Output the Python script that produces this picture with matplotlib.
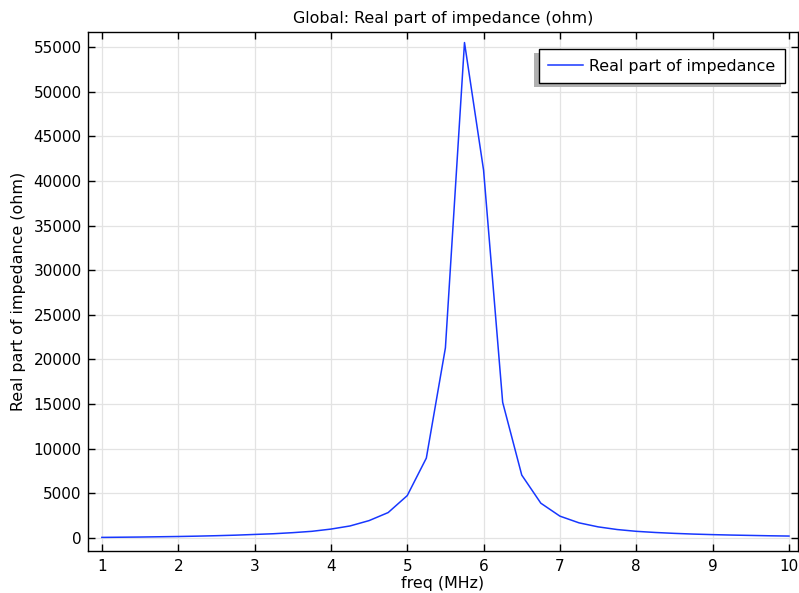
import matplotlib
matplotlib.use('Agg')
import matplotlib.pyplot as plt
import matplotlib.patheffects as pe

# frequency sweep (MHz) and real part of impedance (ohm)
freq = [1.0, 1.25, 1.5, 1.75, 2.0, 2.25, 2.5, 2.75, 3.0, 3.25, 3.5, 3.75,
        4.0, 4.25, 4.5, 4.75, 5.0, 5.25, 5.5, 5.75, 6.0, 6.25, 6.5, 6.75,
        7.0, 7.25, 7.5, 7.75, 8.0, 8.25, 8.5, 8.75, 9.0, 9.25, 9.5, 9.75, 10.0]
re_z = [70, 90, 110, 140, 170, 210, 260, 320, 400, 480, 600, 750,
        1000, 1350, 1950, 2850, 4750, 8950, 21300, 55500, 41200, 15200, 7050, 3900,
        2450, 1700, 1250, 950, 750, 620, 520, 440, 380, 330, 290, 250, 220]
xticks = [1, 2, 3, 4, 5, 6, 7, 8, 9, 10]
yticks = [0, 5000, 10000, 15000, 20000, 25000, 30000, 35000, 40000, 45000, 50000, 55000]

plt.rcParams['font.family'] = 'DejaVu Sans'

fig = plt.figure(figsize=(7.99, 5.93), dpi=100)
ax = fig.add_axes([0.110, 0.0708, 0.8887, 0.8752])

ax.plot(freq, re_z, color='#1737ff', lw=1.1, label='Real part of impedance')

ax.set_xlim(0.817, 10.118)
ax.set_ylim(-1456, 56680)
ax.set_xticks(xticks)
ax.set_yticks(yticks)
ax.grid(True, color='#e3e3e3', lw=0.9)
ax.set_axisbelow(True)
ax.tick_params(direction='in', top=True, right=True, labelsize=11, length=5, width=1)
ax.tick_params(axis='x', pad=6)
ax.tick_params(axis='y', pad=4.5)
for s in ax.spines.values():
    s.set_linewidth(1.0)

ax.set_title('Global: Real part of impedance (ohm)', fontsize=11.4, pad=6.5)
ax.set_xlabel('freq (MHz)', fontsize=11.4, labelpad=1)
ax.set_ylabel('Real part of impedance (ohm)', fontsize=11.4, labelpad=5)

leg = ax.legend(loc='upper right', bbox_to_anchor=(0.9817, 0.967), borderaxespad=0,
                fontsize=11.4, fancybox=False, framealpha=1, edgecolor='black',
                borderpad=0.6, handlelength=2.2, handletextpad=0.4)
frame = leg.get_frame()
frame.set_linewidth(1.0)
frame.set_path_effects([pe.SimplePatchShadow(offset=(-3, -3), shadow_rgbFace='#b0b0b0', alpha=1),
                        pe.Normal()])

fig.savefig('out.png', dpi=100)
